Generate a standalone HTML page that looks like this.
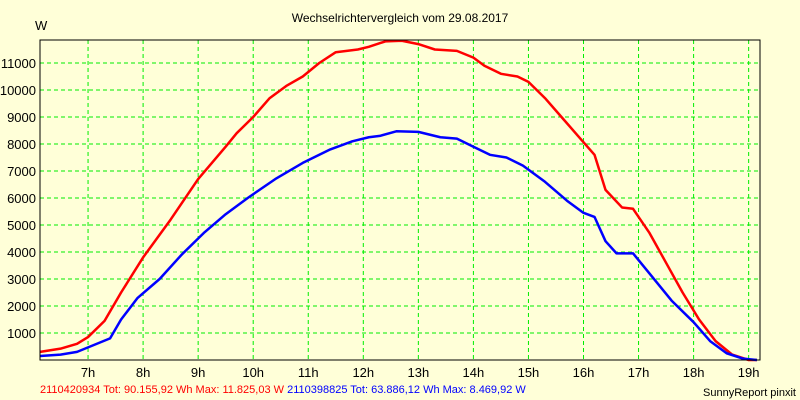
<!DOCTYPE html>
<html><head><meta charset="utf-8"><style>
body{margin:0;background:#ffffd8;}
svg{display:block;font-family:"Liberation Sans",sans-serif;}
</style></head><body>
<svg id="c" width="800" height="400">
<rect width="800" height="400" fill="#ffffd8"/>
<text x="400" y="22" text-anchor="middle" font-size="12">Wechselrichtervergleich vom 29.08.2017</text>
<text x="35" y="30" font-size="13">W</text>
<g id="grid"></g><g id="series"></g><g id="axes"></g>
<text y="393" font-size="11"><tspan x="40" fill="#ff0000">2110420934 Tot: 90.155,92 Wh Max: 11.825,03 W</tspan><tspan fill="#0000ff"> 2110398825 Tot: 63.886,12 Wh Max: 8.469,92 W</tspan></text>
<text x="796" y="396" text-anchor="end" font-size="11">SunnyReport pinxit</text>
</svg>
<script>
const hourTicks=[7,8,9,10,11,12,13,14,15,16,17,18,19];
const yTicks=[1000,2000,3000,4000,5000,6000,7000,8000,9000,10000,11000];
const redT=[6.13,6.5,6.8,7.0,7.3,7.6,8.0,8.5,9.0,9.5,9.7,10.0,10.3,10.6,10.9,11.2,11.5,11.9,12.1,12.4,12.7,13.0,13.3,13.7,14.0,14.2,14.5,14.8,15.0,15.3,15.6,15.9,16.2,16.4,16.7,16.9,17.2,17.5,17.8,18.1,18.4,18.7,19.0,19.15];
const redV=[300,420,600,850,1450,2500,3800,5200,6700,7900,8400,9000,9700,10150,10500,11000,11400,11500,11600,11800,11825,11700,11500,11450,11200,10900,10600,10500,10300,9700,9000,8300,7600,6300,5650,5600,4700,3600,2500,1500,700,200,0,0];
const blueT=[6.13,6.5,6.8,7.1,7.4,7.6,7.9,8.3,8.7,9.1,9.5,9.9,10.4,10.9,11.4,11.8,12.1,12.3,12.6,13.0,13.4,13.7,14.0,14.3,14.6,14.9,15.3,15.7,16.0,16.2,16.4,16.6,16.9,17.2,17.6,18.0,18.3,18.6,18.9,19.15];
const blueV=[150,200,300,550,800,1500,2300,3000,3900,4700,5400,6000,6700,7300,7800,8100,8250,8300,8470,8450,8250,8200,7900,7600,7500,7200,6600,5900,5450,5300,4400,3950,3950,3200,2200,1400,700,250,50,0];
const L=40,R=760,T=40,B=360;
const x=h=>33+(h-6)*55.05;
const y=v=>B-v*0.027;
const NS="http://www.w3.org/2000/svg";
function mk(tag,parent,attrs){const e=document.createElementNS(NS,tag);for(const k in attrs)e.setAttribute(k,attrs[k]);parent.appendChild(e);return e;}
const grid=document.getElementById('grid'),axes=document.getElementById('axes'),ser=document.getElementById('series');
hourTicks.forEach(h=>{
 const l=mk('line',grid,{x1:x(h),x2:x(h),y1:T,y2:B,stroke:'#00ee00','stroke-dasharray':'4,3'});
 
 
 const t=mk('text',axes,{x:x(h),y:377,'text-anchor':'middle','font-size':'13'});
 t.textContent=h+'h';
 
 
});
yTicks.forEach(v=>{
 const l=mk('line',grid,{x1:L,x2:R,y1:y(v),y2:y(v),stroke:'#00ee00','stroke-dasharray':'4,3'});
 
 
 const t=mk('text',axes,{x:36,y:y(v)+5,'text-anchor':'end','font-size':'13'});
 t.textContent=v;
 
 
});
const fr=mk('rect',axes,{x:L,y:T,width:R-L,height:B-T,fill:'none',stroke:'#000','stroke-width':1});


function line(ts,vs,col,name){
 const p=mk('polyline',ser,{points:ts.map((t,i)=>x(t)+','+y(vs[i])).join(' '),fill:'none',stroke:col,'stroke-width':2.5,'stroke-linejoin':'round'});
 
 
}
line(redT,redV,'#ff0000','series-2110420934');
line(blueT,blueV,'#0000ff','series-2110398825');
</script>
</body></html>
